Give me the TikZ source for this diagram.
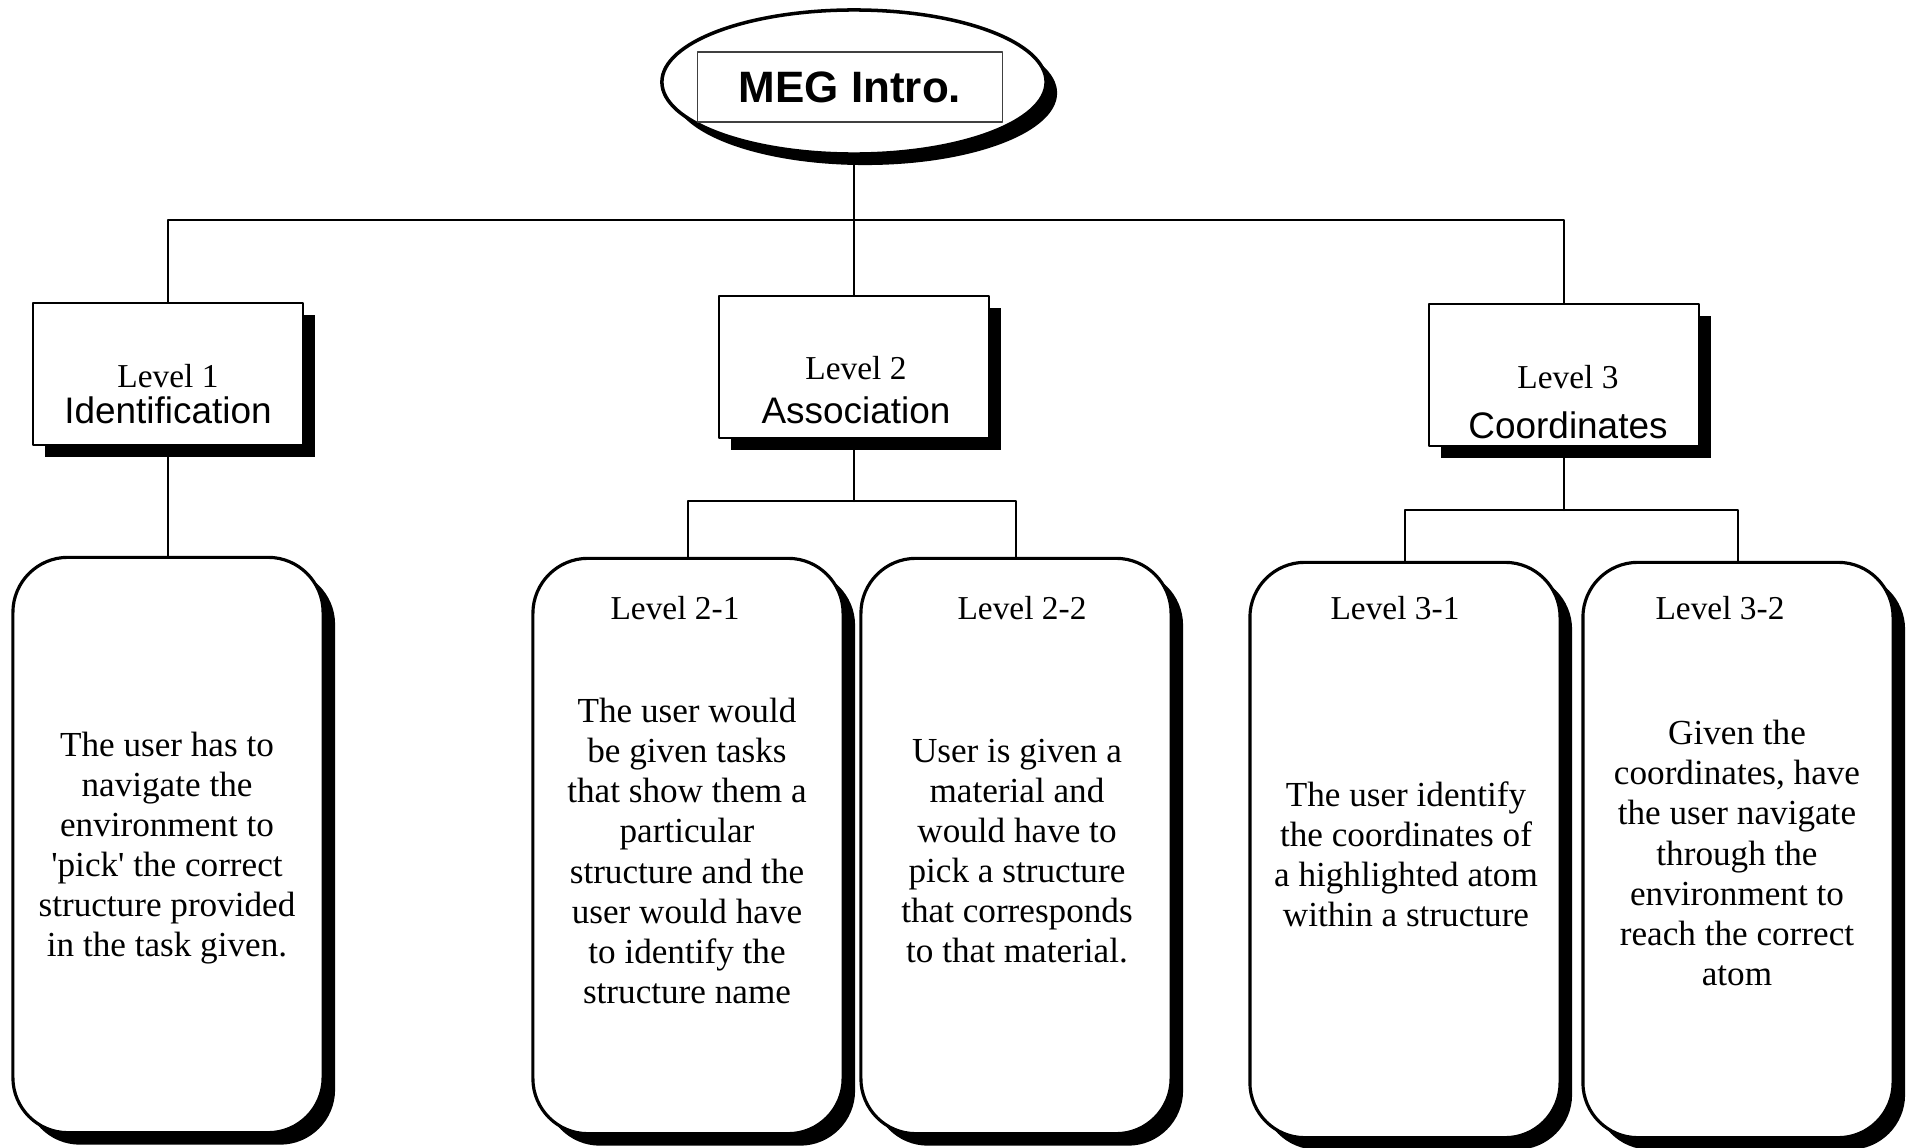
\documentclass[tikz,border=0pt]{standalone}
\usepackage{fontspec}
\setmainfont{Liberation Serif}
\setsansfont{Liberation Sans}
\usetikzlibrary{shapes.geometric,shadows}
\tikzset{
  blackshadow/.style={drop shadow={shadow xshift=0.12cm,shadow yshift=-0.12cm,opacity=1,fill=black}},
  levelbox/.style={draw,line width=0.7pt,fill=white,minimum width=2.70cm,minimum height=1.42cm,inner sep=0pt,blackshadow},
  taskbox/.style={draw,line width=0.9pt,fill=white,rounded corners=0.55cm,minimum width=3.10cm,minimum height=5.75cm,inner sep=0pt,blackshadow},
  levelname/.style={font=\fontsize{9.5}{11}\selectfont,align=center,inner sep=0pt},
  tasklabel/.style={font=\fontsize{9.5}{11}\selectfont,inner sep=0pt},
  tasktext/.style={font=\fontsize{10}{11.4}\selectfont,align=center,inner sep=0pt},
  link/.style={line width=0.6pt},
}
\newcommand{\lvlname}[1]{{\sffamily\fontsize{10.5}{11}\selectfont #1}}
\begin{document}
\begin{tikzpicture}[x=0.01cm,y=-0.01cm,line cap=round,line join=round]
  \useasboundingbox (0,0) rectangle (1908,1148);
  \node[draw,ellipse,line width=1pt,fill=white,minimum width=3.84cm,minimum height=1.44cm,inner sep=0pt,
        drop shadow={shadow xshift=0.11cm,shadow yshift=-0.11cm,opacity=1,fill=black}] (meg) at (854,82) {};
  \node[draw=black!75,line width=0.4pt,minimum width=3.05cm,minimum height=0.70cm,inner sep=0pt,
        font=\sffamily\bfseries\fontsize{12.5}{14}\selectfont] (megbox) at (850,87) {MEG Intro.};

  \node[levelbox] (lvl1) at (168,374) {};
  \node[levelbox] (lvl2) at (854,367) {};
  \node[levelbox] (lvl3) at (1564,375) {};
  \node[levelname] (lvl1txt) at (168,394) {Level 1\\[-0.7pt]\lvlname{Identification}};
  \node[levelname] (lvl2txt) at (856,390) {Level 2\\[1.7pt]\lvlname{Association}};
  \node[levelname] (lvl3txt) at (1568,402) {Level 3\\[3.1pt]\lvlname{Coordinates}};

  \node[taskbox] (r1) at (168,845) {};
  \node[taskbox] (r21) at (688,846) {};
  \node[taskbox] (r22) at (1016,846) {};
  \node[taskbox] (r31) at (1405,850) {};
  \node[taskbox] (r32) at (1738,850) {};

  \node[tasklabel] (r21lbl) at (675,608) {Level 2-1};
  \node[tasklabel] (r22lbl) at (1022,608) {Level 2-2};
  \node[tasklabel] (r31lbl) at (1395,608) {Level 3-1};
  \node[tasklabel] (r32lbl) at (1720,608) {Level 3-2};

  \node[tasktext] (r1txt) at (167,848) {The user has to\\navigate the\\environment to\\\textquotesingle pick\textquotesingle{} the correct\\structure provided\\in the task given.};
  \node[tasktext] (r21txt) at (687,851) {The user would\\be given tasks\\that show them a\\particular\\structure and the\\user would have\\to identify the\\structure name};
  \node[tasktext] (r22txt) at (1017,851) {User is given a\\material and\\would have to\\pick a structure\\that corresponds\\to that material.};
  \node[tasktext] (r31txt) at (1406,854) {The user identify\\the coordinates of\\a highlighted atom\\within a structure};
  \node[tasktext] (r32txt) at (1737,853) {Given the\\coordinates, have\\the user navigate\\through the\\environment to\\reach the correct\\atom};

  \coordinate (bus) at (854,220);
  \coordinate (j2) at (854,501);
  \coordinate (j3) at (1564,510);
  \draw[link] (meg.south) -- (bus);
  \draw[link] (lvl1.north) |- (bus) -| (lvl3.north);
  \draw[link] (bus) -- (lvl2.north);
  \draw[link] (lvl1.south) -- (r1.north);
  \draw[link] (lvl2.south) -- (j2);
  \draw[link] (r21.north) |- (j2) -| (r22.north);
  \draw[link] (lvl3.south) -- (j3);
  \draw[link] (r31.north) |- (j3) -| (r32.north);
\end{tikzpicture}
\end{document}
